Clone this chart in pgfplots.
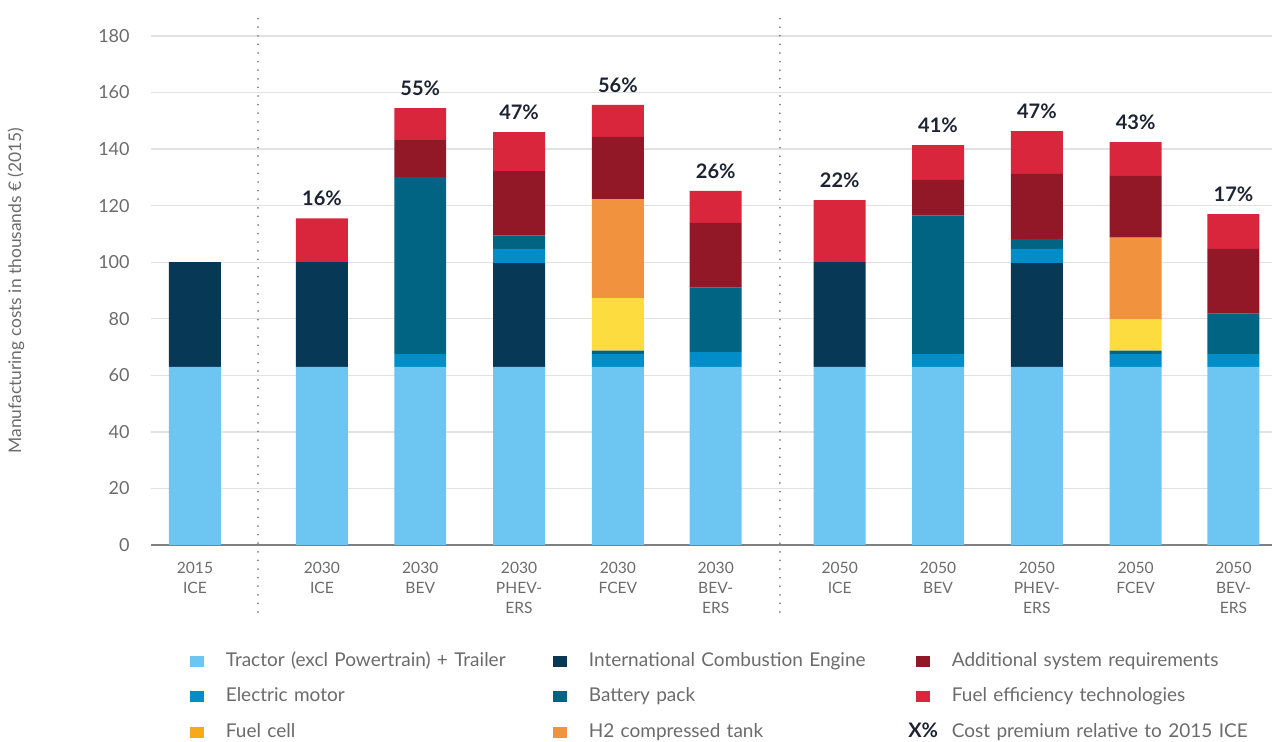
\documentclass[border=0pt]{standalone}
\usepackage{fontspec}
\setmainfont{Lato}
\usepackage{pgfplots}
\pgfplotsset{compat=1.18}
\usepackage{pgfplotstable}
\usetikzlibrary{calc}

\definecolor{ctrac}{HTML}{6DC6F2}
\definecolor{cice}{HTML}{073856}
\definecolor{cmot}{HTML}{008DC8}
\definecolor{cbat}{HTML}{006482}
\definecolor{cfc}{HTML}{FCDC3E}
\definecolor{cfcleg}{HTML}{F7A81B}
\definecolor{ch2}{HTML}{F0923E}
\definecolor{cadd}{HTML}{921827}
\definecolor{cfe}{HTML}{D9263D}
\definecolor{labnavy}{HTML}{1C2434}
\definecolor{tickgray}{HTML}{6B6B6B}
\definecolor{gridgray}{HTML}{E2E2E2}
\definecolor{axisgray}{HTML}{808080}

\pgfplotsset{sqleg/.style={legend image code/.code={%
  \fill[##1, draw=none] (0pt,-2.65pt) rectangle (6.9pt,2.65pt);
  \path[draw=none, fill=none] (0pt,0pt) -- (18pt,0pt);}}}

% thousand EUR (2015)
\pgfplotstableread{
x     trac ice  mot bat  fc   h2   add  fe   tot   lab
0     63   37   0   0    0    0    0    0    100   {}
1.285 63   37   0   0    0    0    0    15.5 115.5 16\%
2.28  63   0    4.5 62.6 0    0    13.1 11.3 154.5 55\%
3.28  63   36.7 5   4.7  0    0    22.8 13.8 146.0 47\%
4.28  63   0    4.5 1.2  18.6 35   22   11.3 155.6 56\%
5.27  63   0    5.2 22.8 0    0    22.9 11.3 125.2 26\%
6.525 63   37   0   0    0    0    0    22   122.0 22\%
7.52  63   0    4.5 49   0    0    12.6 12.3 141.4 41\%
8.52  63   36.7 5   3.5  0    0    23   15.2 146.4 47\%
9.52  63   0    4.5 1.2  11.2 28.8 21.8 12   142.5 43\%
10.51 63   0    4.5 14.3 0    0    22.9 12.3 117.0 17\%
}\costs

\begin{document}
\begin{tikzpicture}
\begin{axis}[
  scale only axis, width=560.5pt, height=254.5pt,
  xmin=-0.445, xmax=10.9, ymin=0, ymax=180,
  ybar stacked, bar width=0.526,
  axis lines*=left,
  y axis line style={draw=none},
  x axis line style={draw=axisgray, line width=1pt},
  tick style={draw=none},
  ytick={0,20,...,180},
  ymajorgrids, grid style={draw=gridgray, line width=0.7pt},
  xtick={0,1.285,2.28,3.28,4.28,5.27,6.525,7.52,8.52,9.52,10.51},
  xticklabels={{2015\\ICE},{2030\\ICE},{2030\\BEV},{2030\\PHEV-\\ERS},{2030\\FCEV},{2030\\BEV-\\ERS},
    {2050\\ICE},{2050\\BEV},{2050\\PHEV-\\ERS},{2050\\FCEV},{2050\\BEV-\\ERS}},
  xticklabel style={align=center, font=\fontsize{7.8}{10}\selectfont, text=tickgray,
    anchor=north, inner sep=0pt, yshift=-8.5pt},
  yticklabel style={font=\fontsize{9}{11}\selectfont, text=tickgray, anchor=east,
    inner sep=0pt, xshift=-10.5pt},
  /pgf/number format/assume math mode=true,
  ylabel={Manufacturing costs in thousands € (2015)},
  every axis y label/.style={at={(rel axis cs:-0.1204,0.5)}, rotate=90, anchor=center,
    inner sep=0pt, font=\fontsize{8.7}{10}\selectfont, text=tickgray},
  clip=false,
  legend columns=3,
  legend cell align=left,
  legend style={at={(rel axis cs:0.0343,-0.21)}, anchor=north west, draw=none,
    inner sep=0pt, row sep=8.75pt,
    nodes={inner sep=0pt, text height=7pt, text depth=2pt, text width=163.5pt, align=left,
      font=\fontsize{9.5}{11}\selectfont, text=tickgray}},
]
\coordinate (bl) at (rel axis cs:0,0);
\addplot[fill=ctrac, draw=none, forget plot] table[x=x, y=trac]{\costs};
\addplot[fill=cice, draw=none, forget plot] table[x=x, y=ice]{\costs};
\addplot[fill=cmot, draw=none, forget plot] table[x=x, y=mot]{\costs};
\addplot[fill=cbat, draw=none, forget plot] table[x=x, y=bat]{\costs};
\addplot[fill=cfc, draw=none, forget plot] table[x=x, y=fc]{\costs};
\addplot[fill=ch2, draw=none, forget plot] table[x=x, y=h2]{\costs};
\addplot[fill=cadd, draw=none, forget plot] table[x=x, y=add]{\costs};
\addplot[fill=cfe, draw=none, forget plot] table[x=x, y=fe]{\costs};

\addlegendimage{sqleg, fill=ctrac}\addlegendentry{Tractor (excl Powertrain) + Trailer}
\addlegendimage{sqleg, fill=cice}\addlegendentry{International Combustion Engine}
\addlegendimage{sqleg, fill=cadd}\addlegendentry{Additional system requirements}
\addlegendimage{sqleg, fill=cmot}\addlegendentry{Electric motor}
\addlegendimage{sqleg, fill=cbat}\addlegendentry{Battery pack}
\addlegendimage{sqleg, fill=cfe}\addlegendentry{Fuel efficiency technologies}
\addlegendimage{sqleg, fill=cfcleg}\addlegendentry{Fuel cell}
\addlegendimage{sqleg, fill=ch2}\addlegendentry{H2 compressed tank}
\addlegendimage{legend image code/.code={%
  \node[overlay, anchor=west, inner sep=0pt, text width=20pt, align=left,
    font=\bfseries\fontsize{10}{12}\selectfont, text=labnavy] at (-4pt,0pt) {X\%};
  \path[draw=none, fill=none] (0pt,0pt) -- (18pt,0pt);}}
\addlegendentry{Cost premium relative to 2015 ICE}

\draw[axisgray, line width=1pt, line cap=round, dash pattern=on 0pt off 4.3pt]
  (axis cs:0.638,-23.7) -- (axis cs:0.638,188.5);
\draw[axisgray, line width=1pt, line cap=round, dash pattern=on 0pt off 4.3pt]
  (axis cs:5.92,-23.7) -- (axis cs:5.92,188.5);
\end{axis}
% cost premium labels at the bar totals
\begin{axis}[
  scale only axis, width=560.5pt, height=254.5pt,
  xmin=-0.445, xmax=10.9, ymin=0, ymax=180,
  hide axis, clip=false,
]
\addplot[only marks, mark=none, nodes near coords, point meta=explicit symbolic,
  nodes near coords style={font=\bfseries\fontsize{10}{12}\selectfont, text=labnavy,
    anchor=south, inner sep=0pt, yshift=6pt}]
  table[x=x, y=tot, meta=lab]{\costs};
\end{axis}
\pgfresetboundingbox
\path ($(bl)+(-75.5pt,-98.5pt)$) rectangle ($(bl)+(560.5pt,272.5pt)$);
\end{tikzpicture}
\end{document}
